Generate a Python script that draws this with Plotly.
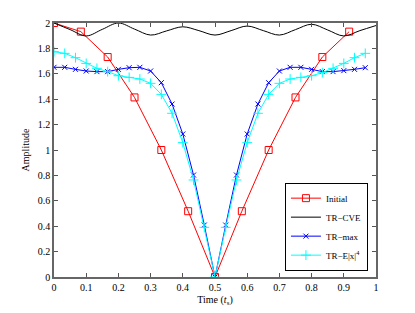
import plotly.graph_objects as go

# ---- data ----
t_init = [0, 1/12, 2/12, 3/12, 4/12, 5/12, 6/12, 7/12, 8/12, 9/12, 10/12, 11/12]
initial = [2.0, 1.932, 1.732, 1.414, 1.0, 0.518, 0.0, 0.518, 1.0, 1.414, 1.732, 1.932]

t_cve = [0, 0.05, 0.1, 0.15, 0.2, 0.25, 0.3, 0.35, 0.4, 0.45, 0.5,
         0.55, 0.6, 0.65, 0.7, 0.75, 0.8, 0.85, 0.9, 0.95, 1.0]
tr_cve = [2.0, 1.948, 1.898, 1.95, 2.0, 1.952, 1.905, 1.938, 1.97, 1.94, 1.905,
          1.94, 1.976, 1.94, 1.905, 1.948, 1.99, 1.945, 1.898, 1.94, 1.98]

t_tr = [i / 30 for i in range(30)]
tr_max = [1.651, 1.651, 1.635, 1.622, 1.617, 1.617, 1.635, 1.648, 1.651, 1.622,
          1.530, 1.362, 1.126, 0.803, 0.409, 0.0, 0.409, 0.803, 1.126, 1.362,
          1.530, 1.622, 1.651, 1.651, 1.635, 1.617, 1.617, 1.625, 1.635, 1.648]
tr_e4 = [1.774, 1.761, 1.727, 1.682, 1.643, 1.617, 1.585, 1.572, 1.559, 1.525,
         1.438, 1.289, 1.058, 0.764, 0.391, 0.0, 0.391, 0.764, 1.058, 1.289,
         1.438, 1.525, 1.559, 1.572, 1.585, 1.609, 1.643, 1.682, 1.727, 1.761]

x_ticks = [0, 0.1, 0.2, 0.3, 0.4, 0.5, 0.6, 0.7, 0.8, 0.9, 1]
y_ticks = [0, 0.2, 0.4, 0.6, 0.8, 1, 1.2, 1.4, 1.6, 1.8, 2]

FONT = "Liberation Serif"

fig = go.Figure()
fig.add_trace(go.Scatter(
    x=t_init, y=initial, name="Initial", mode="lines+markers",
    line=dict(color="#ff0000", width=1),
    marker=dict(symbol="square-open", size=7, color="#ff0000", line=dict(width=1))))
fig.add_trace(go.Scatter(
    x=t_cve, y=tr_cve, name="TR\u2212CVE", mode="lines",
    line=dict(color="#000000", width=1, shape="spline", smoothing=1.0)))
fig.add_trace(go.Scatter(
    x=t_tr, y=tr_max, name="TR\u2212max", mode="lines+markers",
    line=dict(color="#0000ff", width=1),
    marker=dict(symbol="x-thin", size=5, color="#0000ff", line=dict(width=1, color="#0000ff"))))
fig.add_trace(go.Scatter(
    x=t_tr, y=tr_e4, name="TR\u2212E|x|<sup>4</sup>", mode="lines+markers",
    line=dict(color="#00ffff", width=1),
    marker=dict(symbol="cross-thin", size=7, color="#00ffff", line=dict(width=1, color="#00ffff"))))

axis_common = dict(
    showgrid=False, zeroline=False, showline=True, linecolor="#666666", linewidth=1.5,
    mirror="ticks", ticks="inside", ticklen=4, tickcolor="#555555",
    tickfont=dict(family=FONT, size=10, color="#000000"), automargin=False,
)

# page body adds an 8px offset, so the figure is sized to fit the 415x313 window
fig.update_layout(
    width=407, height=305,
    margin=dict(l=46, r=39, t=15, b=36),
    paper_bgcolor="white", plot_bgcolor="white",
    font=dict(family=FONT, size=10, color="#000000"),
    xaxis=dict(range=[0, 1], tickvals=x_ticks,
               title=dict(text="Time (<i>t</i><sub>s</sub>)", font=dict(family=FONT, size=10), standoff=4),
               **axis_common),
    yaxis=dict(range=[0, 2], tickvals=y_ticks,
               title=dict(text="Amplitude", font=dict(family=FONT, size=10), standoff=6),
               **axis_common),
    legend=dict(x=0.975, y=0.025, xanchor="right", yanchor="bottom",
                bgcolor="white", bordercolor="#000000", borderwidth=1,
                font=dict(family=FONT, size=9), tracegroupgap=0, itemwidth=30),
    showlegend=True,
)

fig.write_html("out.html")
